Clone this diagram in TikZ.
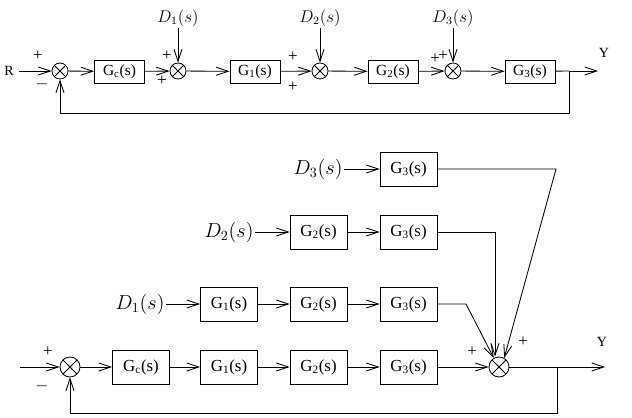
\documentclass[tikz,border=0pt]{standalone}
\usepackage{fontspec}
\setmainfont{Liberation Serif}
\usetikzlibrary{arrows.meta}

\begin{document}
\begin{tikzpicture}[x=0.25mm, y=-0.25mm, semithick,
  >={Straight Barb[length=3mm,width=2mm]},
  blk/.style={draw, minimum width=12.5mm, minimum height=5.75mm, inner sep=0pt, font=\fontsize{11}{12}\selectfont},
  bigblk/.style={blk, minimum width=14.25mm, minimum height=8.5mm, font=\fontsize{12}{13}\selectfont},
  sumj/.style={draw, circle, minimum size=4mm, inner sep=0pt,
    path picture={\draw (path picture bounding box.north west) -- (path picture bounding box.south east)
      (path picture bounding box.north east) -- (path picture bounding box.south west);}},
  bigsum/.style={sumj, minimum size=5mm},
  dlab/.style={inner sep=1pt, font=\fontsize{12}{14}\selectfont},
  bigdlab/.style={inner sep=1pt, font=\fontsize{14}{16}\selectfont},
  sgn/.style={inner sep=0pt, font=\large}]
  \useasboundingbox (0,0) rectangle (632,418);

  % upper loop
  \node (R) at (9,71) {R};
  \node[sumj] (s1) at (60,71) {};
  \node[blk] (gc) at (119.5,71.5) {G\textsubscript{c}(s)};
  \node[sumj] (s2) at (178,71) {};
  \node[blk] (g1) at (255,71.5) {G\textsubscript{1}(s)};
  \node[sumj] (s3) at (320,71) {};
  \node[blk] (g2) at (393,71.5) {G\textsubscript{2}(s)};
  \node[sumj] (s4) at (453,71) {};
  \node[blk] (g3) at (530,71.5) {G\textsubscript{3}(s)};
  \coordinate (b1) at (569,71);
  \coordinate (y1) at (598,71);
  \coordinate (f1) at (569,113);
  \node (Y1) at (604,53) {Y};
  \node[dlab] (d1) at (178,18) {$D_1(s)$};
  \node[dlab] (d2) at (320,18) {$D_2(s)$};
  \node[dlab] (d3) at (453,18) {$D_3(s)$};

  \draw[->] (R) -- (s1);
  \draw[->] (s1) -- (gc);
  \draw[->] (gc) -- (s2);
  \draw[->] (s2) -- (g1);
  \draw[->] (g1) -- (s3);
  \draw[->] (s3) -- (g2);
  \draw[->] (g2) -- (s4);
  \draw[->] (s4) -- (g3);
  \draw[->] (d1) -- (s2);
  \draw[->] (d2) -- (s3);
  \draw[->] (d3) -- (s4);
  \draw (g3) -- (b1);
  \draw[->] (b1) -- (y1);
  \draw[->] (b1) -- (f1) -| (s1.south);

  % signs, upper loop
  \node[sgn] (p1) at (38,56) {+};
  \node[sgn] (m1) at (42,84) {$-$};
  \node[sgn] (p2) at (167,56) {+};
  \node[sgn] (p3) at (162,81) {+};
  \node[sgn] (p4) at (293,57) {+};
  \node[sgn] (p5) at (293,87) {+};
  \node[sgn] (p6) at (435,59) {+};
  \node[sgn] (p7) at (443,56) {+};

  % lower loop, disturbances moved to the output
  \coordinate (in2) at (20,367);
  \node[bigsum] (s5) at (70,367) {};
  \node[bigblk] (gc2) at (141,367) {G\textsubscript{c}(s)};
  \node[bigblk] (g1a) at (229,367) {G\textsubscript{1}(s)};
  \node[bigblk] (g2a) at (318.5,367) {G\textsubscript{2}(s)};
  \node[bigblk] (g3a) at (408.5,367) {G\textsubscript{3}(s)};
  \node[bigsum] (sb) at (499,367) {};
  \coordinate (b2) at (557,367);
  \coordinate (y2) at (605,367);
  \coordinate (f2) at (557,413);
  \node (Y2) at (602,342) {Y};

  \node[bigdlab] (d1b) at (140,304) {$D_1(s)$};
  \node[bigblk] (g1b) at (229,304) {G\textsubscript{1}(s)};
  \node[bigblk] (g2b) at (318.5,304) {G\textsubscript{2}(s)};
  \node[bigblk] (g3b) at (408.5,304) {G\textsubscript{3}(s)};
  \coordinate (c1) at (466,304);

  \node[bigdlab] (d2b) at (229,232) {$D_2(s)$};
  \node[bigblk] (g2c) at (318.5,232) {G\textsubscript{2}(s)};
  \node[bigblk] (g3c) at (408.5,232) {G\textsubscript{3}(s)};
  \coordinate (c2) at (495,232);

  \node[bigdlab] (d3b) at (318,169) {$D_3(s)$};
  \node[bigblk] (g3d) at (408.5,169) {G\textsubscript{3}(s)};
  \coordinate (c3) at (556,169);

  \draw[->] (in2) -- (s5);
  \draw[->] (s5) -- (gc2);
  \draw[->] (gc2) -- (g1a);
  \draw[->] (g1a) -- (g2a);
  \draw[->] (g2a) -- (g3a);
  \draw[->] (g3a) -- (sb);
  \draw (sb) -- (b2);
  \draw[->] (b2) -- (y2);
  \draw[->] (b2) -- (f2) -| (s5.south);

  \draw[->] (d1b) -- (g1b);
  \draw[->] (g1b) -- (g2b);
  \draw[->] (g2b) -- (g3b);
  \draw[->] (g3b) -- (c1) -- (sb.120);

  \draw[->] (d2b) -- (g2c);
  \draw[->] (g2c) -- (g3c);
  \draw[->] (g3c) -- (c2) -- (c2 |- sb.north);

  \draw[->] (d3b) -- (g3d);
  \draw[->] (g3d) -- (c3) -- (sb.60);

  % signs, lower loop
  \node[sgn] (p8) at (48,352) {+};
  \node[sgn] (m2) at (42,386) {$-$};
  \node[sgn] (p9) at (472,352) {+};
  \node[sgn] (p10) at (523,342) {+};
\end{tikzpicture}
\end{document}
